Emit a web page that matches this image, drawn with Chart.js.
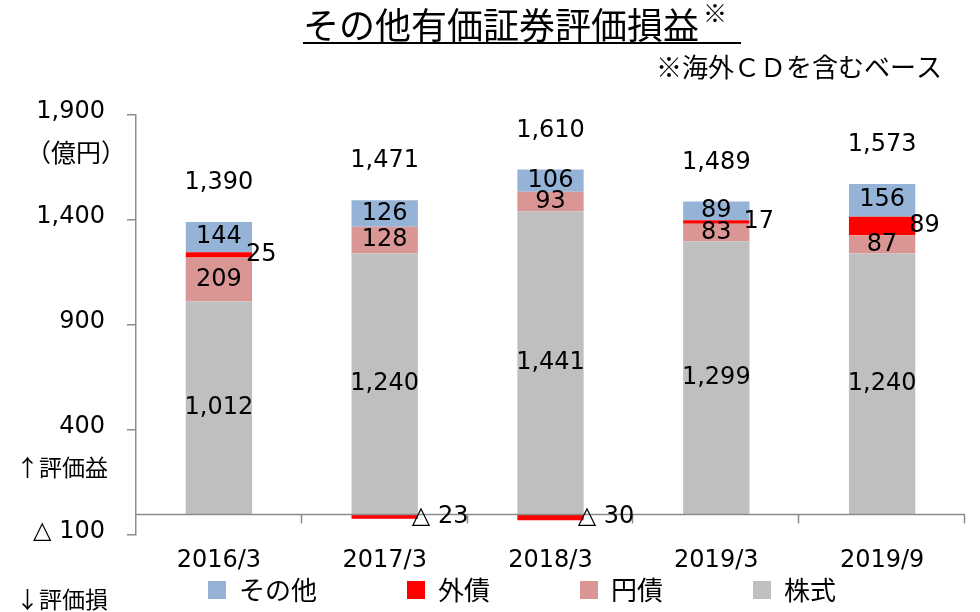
<!DOCTYPE html>
<html><head><meta charset="utf-8">
<script src="https://cdn.jsdelivr.net/npm/chart.js@4.4.1/dist/chart.umd.min.js"></script>
<style>html,body{margin:0;padding:0;background:#fff;}</style>
</head><body>
<canvas id="c" width="980" height="612"></canvas>
<script>
// ---- data ----
const categories = ['2016/3', '2017/3', '2018/3', '2019/3', '2019/9'];
const stocks = [1012, 1240, 1441, 1299, 1240];        // 株式
const yenBonds = [209, 128, 93, 83, 87];               // 円債
const foreignBonds = [25, -23, -30, 17, 89];           // 外債
const others = [144, 126, 106, 89, 156];               // その他
const totals = [1390, 1471, 1610, 1489, 1573];
const yTickValues = [-100, 400, 900, 1400, 1900];

const NUM = '"DejaVu Sans", "Noto Sans CJK JP", sans-serif';
const CJK = '"Noto Sans CJK JP", sans-serif';
const AX = '#8c8c8c';
const LEG_PAD = 90, LEG_FONT = 26;

function fmt(v) {
  return v < 0 ? '△ ' + Math.abs(v).toLocaleString('en-US') : v.toLocaleString('en-US');
}

const decor = {
  id: 'decor',
  afterDatasetsDraw(chart) {
    const ctx = chart.ctx, y = chart.scales.y, a = chart.chartArea;
    ctx.save();
    // zero axis line + category ticks
    const y0 = Math.round(y.getPixelForValue(0)) + 0.5;
    ctx.strokeStyle = AX; ctx.lineWidth = 1.5;
    ctx.beginPath(); ctx.moveTo(a.left, y0); ctx.lineTo(a.right, y0); ctx.stroke();
    const n = categories.length, cw = (a.right - a.left) / n;
    ctx.beginPath();
    for (let i = 1; i <= n; i++) {
      const xx = Math.round(a.left + i * cw) - 0.5;
      ctx.moveTo(xx, y0); ctx.lineTo(xx, y0 + 9);
    }
    ctx.stroke();
    // data labels
    ctx.font = '24px ' + NUM; ctx.fillStyle = '#000'; ctx.textBaseline = 'middle';
    chart.data.datasets.forEach((ds, di) => {
      chart.getDatasetMeta(di).data.forEach((bar, i) => {
        const v = ds.data[i];
        const yc = (bar.y + bar.base) / 2;
        if (ds.label === '外債') {
          ctx.textAlign = 'left';
          ctx.fillText(fmt(v), bar.x + bar.width / 2 - 6, yc);
        } else {
          ctx.textAlign = 'center';
          ctx.fillText(fmt(v), bar.x, yc);
        }
      });
    });
    const topMeta = chart.getDatasetMeta(chart.data.datasets.length - 1);
    topMeta.data.forEach((bar, i) => {
      ctx.textAlign = 'center';
      ctx.fillText(fmt(totals[i]), bar.x, bar.y - 39);
    });
    ctx.restore();
  },
  afterDraw(chart) {
    const ctx = chart.ctx;
    ctx.save();
    ctx.fillStyle = '#000'; ctx.textBaseline = 'alphabetic';
    // title
    ctx.font = '36px ' + CJK; ctx.textAlign = 'left';
    const t = 'その他有価証券評価損益';
    ctx.fillText(t, 303, 39);
    const w = ctx.measureText(t).width;
    ctx.font = '24px ' + CJK;
    ctx.fillText('※', 303 + w + 4, 22);
    ctx.fillRect(303, 42, 438, 2);
    // subtitle
    ctx.font = '26px ' + CJK;
    ctx.fillText('※海外ＣＤを含むベース', 656, 77);
    // unit and side notes
    ctx.font = '25px ' + CJK; ctx.textAlign = 'center';
    ctx.fillText('（億円）', 76, 162);
    ctx.font = '23px ' + CJK; ctx.textAlign = 'left';
    ctx.fillText('↑評価益', 16, 476);
    ctx.fillText('↓評価損', 16, 608);
    ctx.restore();
  },
  afterLayout(chart) {
    const lg = chart.legend;
    if (lg) {
      lg.top = 577 - LEG_PAD;
      lg.bottom = chart.height;
      lg.height = lg.bottom - lg.top;
      lg.left = 208 - LEG_PAD;
      lg.right = chart.width;
      lg.width = lg.right - lg.left;
    }
  }
};

new Chart(document.getElementById('c'), {
  type: 'bar',
  data: {
    labels: categories,
    datasets: [
      { label: '株式', data: stocks, backgroundColor: '#BFBFBF' },
      { label: '円債', data: yenBonds, backgroundColor: '#DA9694' },
      { label: '外債', data: foreignBonds, backgroundColor: '#FF0000' },
      { label: 'その他', data: others, backgroundColor: '#95B3D7' }
    ]
  },
  options: {
    responsive: false,
    animation: false,
    devicePixelRatio: 1,
    datasets: { bar: { categoryPercentage: 1, barPercentage: 0.4, borderWidth: 0 } },
    layout: { padding: { top: 115, right: 15, bottom: 0, left: 0 } },
    scales: {
      x: {
        stacked: true,
        grid: { display: false },
        border: { display: false },
        ticks: { font: { family: NUM, size: 24 }, color: '#000', padding: 3 },
        afterFit(s) { s.height = 40; }
      },
      y: {
        stacked: true,
        min: -100, max: 1900,
        afterBuildTicks(s) { s.ticks = yTickValues.map(v => ({ value: v })); },
        grid: { drawOnChartArea: false, tickLength: 9, color: AX, lineWidth: 1.5 },
        border: { color: AX, width: 1.5 },
        ticks: { padding: 22, labelOffset: -3, font: { family: NUM, size: 24 }, color: '#000', callback: v => fmt(v) },
        afterFit(s) { s.width = 136; }
      }
    },
    plugins: {
      legend: {
        position: 'bottom', align: 'start', fullSize: true, reverse: true, maxHeight: 37,
        labels: { boxWidth: 18, boxHeight: 18, padding: LEG_PAD, font: { family: CJK, size: LEG_FONT }, color: '#000' }
      },
      tooltip: { enabled: false }
    }
  },
  plugins: [decor]
});
</script>
</body></html>
